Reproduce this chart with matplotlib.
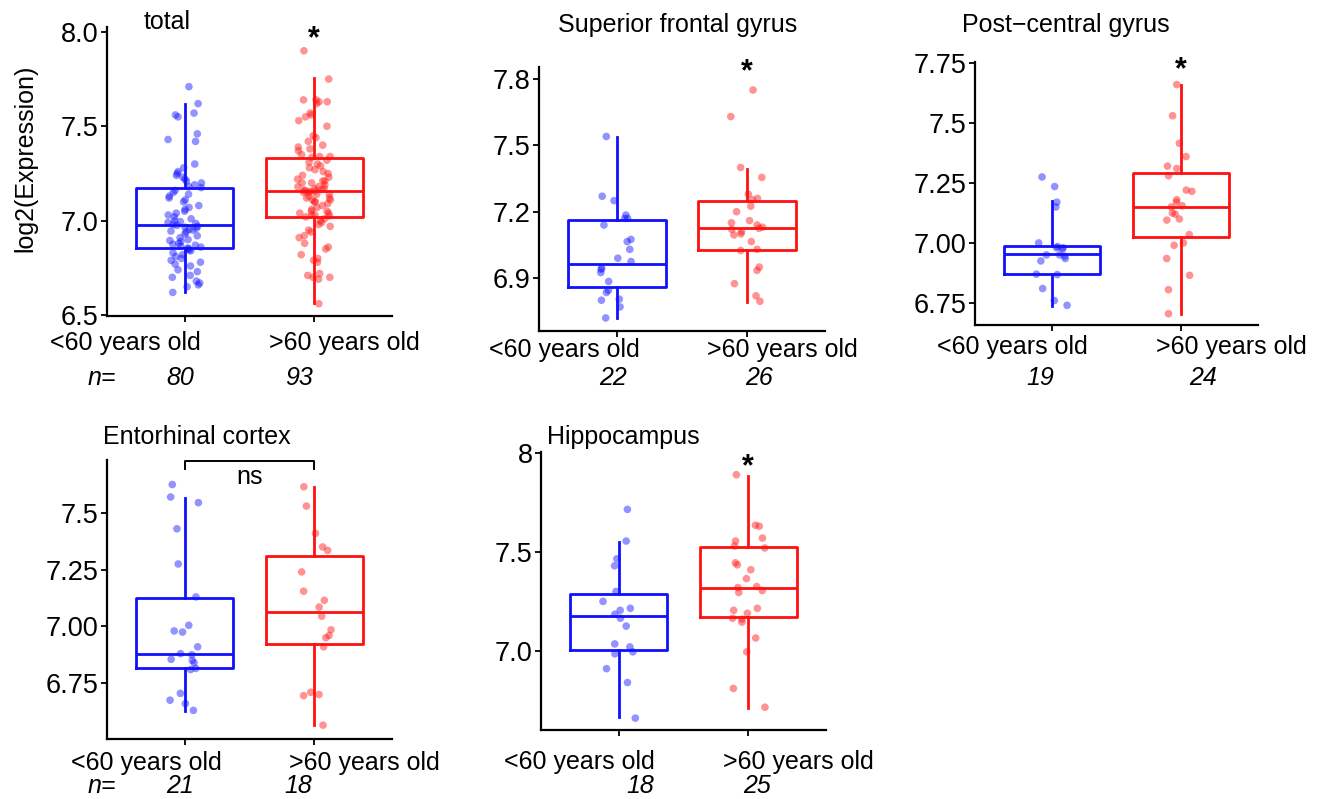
import numpy as np
import matplotlib
matplotlib.use('Agg')
import matplotlib.pyplot as plt

plt.rcParams['font.family'] = ['Liberation Sans', 'DejaVu Sans']

W, H = 1320, 799

groups = ['<60 years old', '>60 years old']
titles = ['total', 'Superior frontal gyrus', 'Post\u2212central gyrus',
          'Entorhinal cortex', 'Hippocampus']

# expression values (young, old) per region
total_young = [7.71, 7.62, 7.57, 7.56, 7.55, 7.46, 7.43, 7.42, 7.30, 7.28,
               7.26, 7.25, 7.24, 7.23, 7.22, 7.21, 7.20, 7.19, 7.18, 7.175,
               7.16, 7.15, 7.14, 7.13, 7.12, 7.11, 7.10, 7.08, 7.07, 7.06,
               7.05, 7.04, 7.03, 7.02, 7.01, 7.00, 6.995, 6.99, 6.985, 6.98,
               6.975, 6.97, 6.965, 6.96, 6.955, 6.95, 6.945, 6.94, 6.93, 6.92,
               6.91, 6.90, 6.895, 6.89, 6.88, 6.875, 6.87, 6.865, 6.86, 6.855,
               6.85, 6.845, 6.84, 6.83, 6.82, 6.81, 6.80, 6.79, 6.78, 6.77,
               6.76, 6.74, 6.73, 6.71, 6.70, 6.68, 6.67, 6.66, 6.65, 6.62]
total_old = [7.90, 7.75, 7.64, 7.64, 7.63, 7.63, 7.62, 7.57, 7.56, 7.55,
             7.53, 7.50, 7.45, 7.44, 7.42, 7.40, 7.39, 7.38, 7.37, 7.35,
             7.34, 7.34, 7.335, 7.157,
             7.32, 7.31, 7.30, 7.29, 7.28, 7.27, 7.26, 7.25, 7.24, 7.23,
             7.22, 7.21, 7.21, 7.20, 7.20, 7.19, 7.18, 7.18, 7.17, 7.17,
             7.165, 7.16, 7.16,
             7.155, 7.15, 7.15, 7.14, 7.14, 7.13, 7.12, 7.12, 7.11, 7.11,
             7.10, 7.10, 7.09, 7.08, 7.07, 7.06, 7.05, 7.05, 7.04, 7.04,
             7.03, 7.03, 7.025,
             7.02, 7.01, 7.00, 6.99, 6.98, 6.97, 6.95, 6.94, 6.92, 6.91,
             6.88, 6.86, 6.85, 6.82, 6.80, 6.79, 6.78, 6.72, 6.71, 6.70,
             6.70, 6.69, 6.56]
sfg_young = [7.54, 7.27, 7.25, 7.185, 7.17, 7.17, 7.14, 7.075, 7.065, 7.03,
             6.99, 6.975, 6.945, 6.94, 6.925, 6.885, 6.845, 6.835, 6.805,
             6.80, 6.77, 6.72]
sfg_old = [7.75, 7.63, 7.40, 7.355, 7.28, 7.26, 7.255, 7.225, 7.20, 7.16,
           7.15, 7.14, 7.13, 7.125, 7.12, 7.11, 7.10, 7.095, 7.065, 7.03,
           7.025, 6.95, 6.935, 6.875, 6.82, 6.795]
pcg_young = [7.275, 7.235, 7.17, 7.15, 7.00, 6.985, 6.98, 6.98, 6.975, 6.95,
             6.95, 6.945, 6.935, 6.925, 6.87, 6.868, 6.81, 6.76, 6.74]
pcg_old = [7.66, 7.53, 7.415, 7.36, 7.32, 7.31, 7.28, 7.22, 7.215, 7.18,
           7.17, 7.155, 7.15, 7.125, 7.12, 7.10, 7.095, 7.035, 7.00, 6.99,
           6.935, 6.865, 6.805, 6.705]
ec_young = [7.625, 7.57, 7.545, 7.43, 7.275, 7.13, 7.005, 6.98, 6.975, 6.91,
            6.88, 6.875, 6.855, 6.85, 6.84, 6.815, 6.81, 6.705, 6.675, 6.66,
            6.63]
ec_old = [7.615, 7.53, 7.41, 7.35, 7.335, 7.24, 7.155, 7.115, 7.085, 7.045,
          6.985, 6.96, 6.95, 6.91, 6.71, 6.70, 6.695, 6.565]
hip_young = [7.715, 7.555, 7.465, 7.43, 7.30, 7.25, 7.215, 7.205, 7.185,
             7.165, 7.125, 7.035, 7.02, 6.995, 6.985, 6.91, 6.84, 6.66]
hip_old = [7.89, 7.635, 7.63, 7.57, 7.555, 7.53, 7.52, 7.445, 7.435, 7.41,
           7.365, 7.325, 7.32, 7.305, 7.295, 7.215, 7.205, 7.19, 7.165, 7.16,
           7.145, 7.065, 6.995, 6.81, 6.715]

# box summaries: [whisker low, q1, median, q3, whisker high]
box_young = [[6.623, 6.853, 6.977, 7.171, 7.618],
             [6.718, 6.861, 6.966, 7.162, 7.538],
             [6.737, 6.869, 6.953, 6.989, 7.175],
             [6.628, 6.816, 6.877, 7.126, 7.567],
             [6.666, 7.003, 7.176, 7.285, 7.552]]
box_old = [[6.562, 7.021, 7.157, 7.330, 7.754],
           [6.793, 7.029, 7.127, 7.247, 7.395],
           [6.704, 7.024, 7.151, 7.293, 7.658],
           [6.567, 6.921, 7.065, 7.310, 7.614],
           [6.713, 7.169, 7.319, 7.524, 7.885]]

n_young = [80, 22, 19, 21, 18]
n_old = [93, 26, 24, 18, 25]
signif = ['*', '*', '*', 'ns', '*']

yticks = [[6.5, 7.0, 7.5, 8.0], [6.9, 7.2, 7.5, 7.8],
          [6.75, 7.0, 7.25, 7.5, 7.75], [6.75, 7.0, 7.25, 7.5], [7.0, 7.5, 8.0]]
yticklabels = [['6.5', '7.0', '7.5', '8.0'], ['6.9', '7.2', '7.5', '7.8'],
               ['6.75', '7.00', '7.25', '7.5', '7.75'],
               ['6.75', '7.00', '7.25', '7.5'], ['7.0', '7.5', '8']]
ylims = [(6.495, 8.026), (6.661, 7.854), (6.658, 7.754), (6.504, 7.733),
         (6.60, 8.005)]

young = [total_young, sfg_young, pcg_young, ec_young, hip_young]
old = [total_old, sfg_old, pcg_old, ec_old, hip_old]

# panel frames in pixels: left, top, right, bottom
frames = [(107, 27, 392, 316), (539, 67, 825, 331), (975, 62, 1258, 325),
          (107, 460, 392, 739), (541, 452, 826, 730)]

blue = '#1010ff'
red = '#ff1010'
fs = 18

fig = plt.figure(figsize=(W / 100, H / 100), dpi=100)


def ft(x, y, s, **kw):
    kw.setdefault('ha', 'center')
    kw.setdefault('va', 'center')
    fig.text(x / W, 1 - y / H, s, **kw)


rng = np.random.default_rng(7)
axes = []
for i in range(5):
    l, t, r, b = frames[i]
    ax = fig.add_axes([l / W, 1 - b / H, (r - l) / W, (b - t) / H])
    axes.append(ax)
    stats = []
    for bx in (box_young[i], box_old[i]):
        stats.append(dict(whislo=bx[0], q1=bx[1], med=bx[2], q3=bx[3],
                          whishi=bx[4]))
    bp = ax.bxp(stats, positions=[1, 2], widths=0.75, showfliers=False,
                showcaps=False, patch_artist=False)
    for k, c in enumerate([blue, red]):
        bp['boxes'][k].set(color=c, linewidth=2)
        bp['medians'][k].set(color=c, linewidth=2)
        for w in bp['whiskers'][2 * k:2 * k + 2]:
            w.set(color=c, linewidth=2)
    for k, (vals, c) in enumerate([(young[i], blue), (old[i], red)]):
        vals = np.array(vals)
        jit = rng.uniform(-0.13, 0.13, len(vals))
        ax.scatter(k + 1 + jit, vals, s=30, color=c, alpha=0.45,
                   edgecolors='none', zorder=3)
    ax.set_xlim(0.4, 2.6)
    ax.set_ylim(*ylims[i])
    ax.set_yticks(yticks[i])
    ax.set_yticklabels(yticklabels[i])
    ax.set_xticks([1, 2])
    ax.set_xticklabels([])
    for s in ['top', 'right']:
        ax.spines[s].set_visible(False)
    for s in ['left', 'bottom']:
        ax.spines[s].set_linewidth(1.6)
    ax.tick_params(axis='both', length=4, width=1.3, pad=2, labelsize=19.5,
                   colors='black')

# significance marks
for i in [0, 1, 2, 4]:
    ax = axes[i]
    y = {0: 7.96, 1: 7.83, 2: 7.72, 4: 7.93}[i]
    ax.text(2, y, signif[i], ha='center', va='center', fontsize=22,
            fontweight='bold', clip_on=False)
ax = axes[3]
ax.plot([1, 1, 2, 2], [7.693, 7.728, 7.728, 7.693], color='black',
        linewidth=1.4, clip_on=False)
ax.text(1.5, 7.66, signif[3], ha='center', va='center', fontsize=fs)

# titles
ft(167, 22, titles[0], fontsize=fs)
ft(678, 25, titles[1], fontsize=fs)
ft(1066, 25, titles[2], fontsize=fs)
ft(197, 437, titles[3], fontsize=fs)
ft(623, 437, titles[4], fontsize=fs)

ft(25, 158, 'log2(Expression)', fontsize=fs, rotation=90)

# group labels and counts
label_pos = [(125, 344, 343), (564, 782, 350), (1012, 1231, 347),
             (146, 364, 763), (579, 798, 762)]
count_pos = [(180, 299, 378), (613, 759, 378), (1040, 1203, 378),
             (180, 298, 786), (640, 757, 786)]
for i in range(5):
    x1, x2, y = label_pos[i]
    ft(x1, y, groups[0], fontsize=fs)
    ft(x2, y, groups[1], fontsize=fs)
    x1, x2, y = count_pos[i]
    ft(x1, y, str(n_young[i]), fontsize=fs, style='italic')
    ft(x2, y, str(n_old[i]), fontsize=fs, style='italic')
ft(102, 378, 'n=', fontsize=fs, style='italic')
ft(102, 786, 'n=', fontsize=fs, style='italic')

fig.savefig('out.png', dpi=100)
